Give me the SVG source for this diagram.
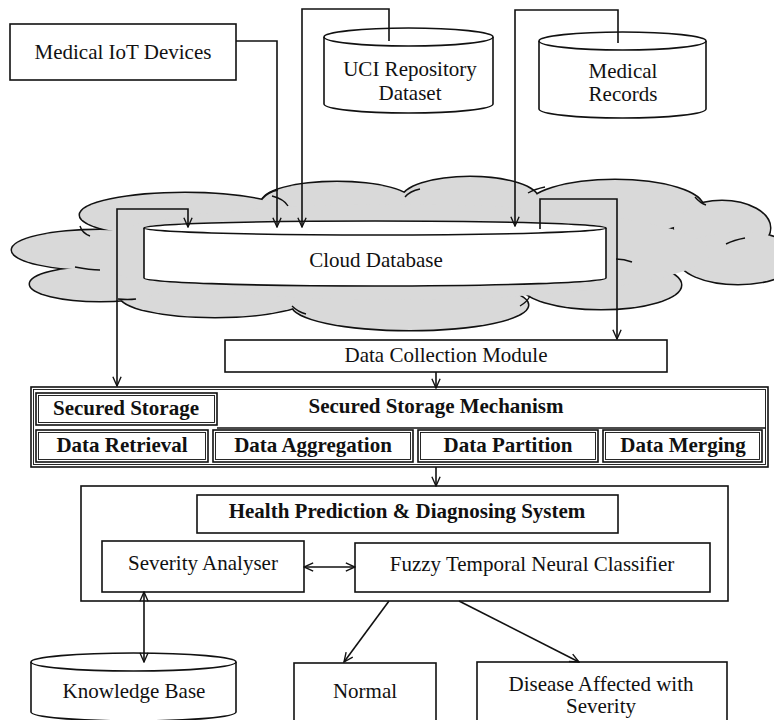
<svg xmlns="http://www.w3.org/2000/svg" width="774" height="720" viewBox="0 0 774 720">
<style>
.t{font-family:"Liberation Serif","Times New Roman",serif;font-size:21px;fill:#111;text-anchor:middle}
.b{font-weight:bold}
.box{fill:#fff;stroke:#111;stroke-width:1.6}
.in{fill:none;stroke:#111;stroke-width:0.9}
.ln{fill:none;stroke:#111;stroke-width:1.6}
.cl{fill:none;stroke:#111;stroke-width:1.4}
.cs ellipse{fill:#111;stroke:#111;stroke-width:3}
.cf ellipse{fill:#d9d9d9;stroke:none}
</style>
<defs>
<marker id="ar" viewBox="0 0 12 12" refX="11" refY="6" markerWidth="11" markerHeight="11" markerUnits="userSpaceOnUse" orient="auto-start-reverse">
<path d="M1,1.5 L11,6 L1,10.5" fill="none" stroke="#111" stroke-width="1.5"/>
</marker>
</defs>
<rect width="774" height="720" fill="#fff"/>

<g id="cloud">
<g class="cs">
<ellipse cx="100" cy="250" rx="88" ry="20"/>
<ellipse cx="185" cy="215" rx="105" ry="22"/>
<ellipse cx="337" cy="202" rx="75" ry="20"/>
<ellipse cx="470" cy="199" rx="68" ry="22"/>
<ellipse cx="615" cy="207" rx="88" ry="27"/>
<ellipse cx="722" cy="228" rx="48" ry="27"/>
<ellipse cx="738" cy="258" rx="60" ry="26"/>
<ellipse cx="601" cy="285" rx="80" ry="24"/>
<ellipse cx="410" cy="305" rx="118" ry="25"/>
<ellipse cx="215" cy="296" rx="95" ry="21"/>
<ellipse cx="100" cy="284" rx="70" ry="17"/>
</g>
<g class="cf">
<ellipse cx="100" cy="250" rx="88" ry="20"/>
<ellipse cx="185" cy="215" rx="105" ry="22"/>
<ellipse cx="337" cy="202" rx="75" ry="20"/>
<ellipse cx="470" cy="199" rx="68" ry="22"/>
<ellipse cx="615" cy="207" rx="88" ry="27"/>
<ellipse cx="722" cy="228" rx="48" ry="27"/>
<ellipse cx="738" cy="258" rx="60" ry="26"/>
<ellipse cx="601" cy="285" rx="80" ry="24"/>
<ellipse cx="410" cy="305" rx="118" ry="25"/>
<ellipse cx="215" cy="296" rx="95" ry="21"/>
<ellipse cx="100" cy="284" rx="70" ry="17"/>
<ellipse cx="395" cy="252" rx="315" ry="48"/>
</g>
<g class="cl">
<path d="M80,226 Q82,233 90,236"/>
<path d="M75,267 Q90,270 100,270"/>
<path d="M118,299 Q128,300 136,299"/>
<path d="M272,196 Q284,199 288,206"/>
<path d="M262,199 Q268,192 278,190"/>
<path d="M292,306 Q298,312 306,314"/>
<path d="M405,197 Q410,191 420,189"/>
<path d="M528,193 Q535,189 545,187"/>
<path d="M695,197 Q700,203 706,205"/>
<path d="M726,244 Q734,240 745,238"/>
<path d="M616,259 Q624,259 632,262"/>
<path d="M520,306 Q527,302 530,296"/>
</g>
</g>

<g id="iot">
<rect class="box" x="10" y="24" width="226" height="56"/>
<text class="t" x="123" y="59">Medical IoT Devices</text>
</g>

<g id="uci">
<path class="box" d="M324,37 V104 A84.5,9 0 0 0 493,104 V37 A84.5,9 0 0 0 324,37 Z"/>
<path class="ln" d="M324,37 A84.5,9 0 0 0 493,37"/>
<text class="t" x="410" y="76">UCI Repository</text>
<text class="t" x="410" y="100">Dataset</text>
</g>

<g id="records">
<path class="box" d="M539,41 V109 A83.5,9 0 0 0 706,109 V41 A83.5,9 0 0 0 539,41 Z"/>
<path class="ln" d="M539,41 A83.5,9 0 0 0 706,41"/>
<text class="t" x="623" y="78">Medical</text>
<text class="t" x="623" y="101">Records</text>
</g>

<g id="clouddb">
<path class="box" d="M144,228 V278 A231,8 0 0 0 606,278 V228 A231,7 0 0 0 144,228 Z"/>
<path class="ln" d="M144,228 A231,7 0 0 0 606,228"/>
<text class="t" x="376" y="267">Cloud Database</text>
</g>

<g id="dcm">
<rect class="box" x="225" y="340" width="442" height="32"/>
<text class="t" x="446" y="362">Data Collection Module</text>
</g>

<g id="ssm">
<rect class="box" x="31" y="387" width="737" height="80"/>
<rect class="in" x="33.5" y="389.5" width="732" height="75"/>
<line class="ln" x1="217" y1="428" x2="766" y2="428"/>
<text class="t b" x="436" y="413">Secured Storage Mechanism</text>
</g>
<g id="storage">
<rect class="box" x="36" y="393" width="181" height="32"/>
<rect class="in" x="38.5" y="395.5" width="176" height="27"/>
<text class="t b" x="126" y="415">Secured Storage</text>
</g>
<g id="retrieval">
<rect class="box" x="36" y="430" width="172" height="32"/>
<rect class="in" x="38.5" y="432.5" width="167" height="27"/>
<text class="t b" x="122" y="452">Data Retrieval</text>
</g>
<g id="aggregation">
<rect class="box" x="213" y="430" width="200" height="32"/>
<rect class="in" x="215.5" y="432.5" width="195" height="27"/>
<text class="t b" x="313" y="452">Data Aggregation</text>
</g>
<g id="partition">
<rect class="box" x="418" y="430" width="180" height="32"/>
<rect class="in" x="420.5" y="432.5" width="175" height="27"/>
<text class="t b" x="508" y="452">Data Partition</text>
</g>
<g id="merging">
<rect class="box" x="603" y="430" width="159" height="32"/>
<rect class="in" x="605.5" y="432.5" width="154" height="27"/>
<text class="t b" x="683" y="452">Data Merging</text>
</g>

<g id="hpds">
<rect class="box" x="81" y="486" width="647" height="115"/>
</g>
<g id="hpds-title">
<rect class="box" x="197" y="495" width="421" height="38"/>
<text class="t b" x="407" y="518">Health Prediction &amp; Diagnosing System</text>
</g>
<g id="severity">
<rect class="box" x="102" y="541" width="202" height="51"/>
<text class="t" x="203" y="570">Severity Analyser</text>
</g>
<g id="ftnc">
<rect class="box" x="355" y="543" width="355" height="49"/>
<text class="t" x="532" y="571">Fuzzy Temporal Neural Classifier</text>
</g>

<g id="kb">
<path class="box" d="M31,662 V712 A102.5,9 0 0 0 236,712 V662 A102.5,9 0 0 0 31,662 Z"/>
<path class="ln" d="M31,662 A102.5,9 0 0 0 236,662"/>
<text class="t" x="134" y="698">Knowledge Base</text>
</g>
<g id="normal">
<rect class="box" x="294" y="663" width="142" height="70"/>
<text class="t" x="365" y="698">Normal</text>
</g>
<g id="disease">
<rect class="box" x="477" y="662" width="250" height="70"/>
<text class="t" x="601" y="691">Disease Affected with</text>
<text class="t" x="601" y="713">Severity</text>
</g>

<g id="connectors">
<path class="ln" d="M236,41 H277 V227" marker-end="url(#ar)"/>
<path class="ln" d="M389,41 V9 H302 V227" marker-end="url(#ar)"/>
<path class="ln" d="M618,43 V10 H515 V226" marker-end="url(#ar)"/>
<path class="ln" d="M117,386 V209 H188 V227" marker-start="url(#ar)" marker-end="url(#ar)"/>
<path class="ln" d="M540,229 V199 H617 V339" marker-end="url(#ar)"/>
<path class="ln" d="M436,372 V388" marker-end="url(#ar)"/>
<path class="ln" d="M436,467 V486" marker-end="url(#ar)"/>
<path class="ln" d="M304,567 H355" marker-start="url(#ar)" marker-end="url(#ar)"/>
<path class="ln" d="M144,592 V662" marker-start="url(#ar)" marker-end="url(#ar)"/>
<path class="ln" d="M389,601 L344,662" marker-end="url(#ar)"/>
<path class="ln" d="M459,601 L579,662" marker-end="url(#ar)"/>
</g>
</svg>
